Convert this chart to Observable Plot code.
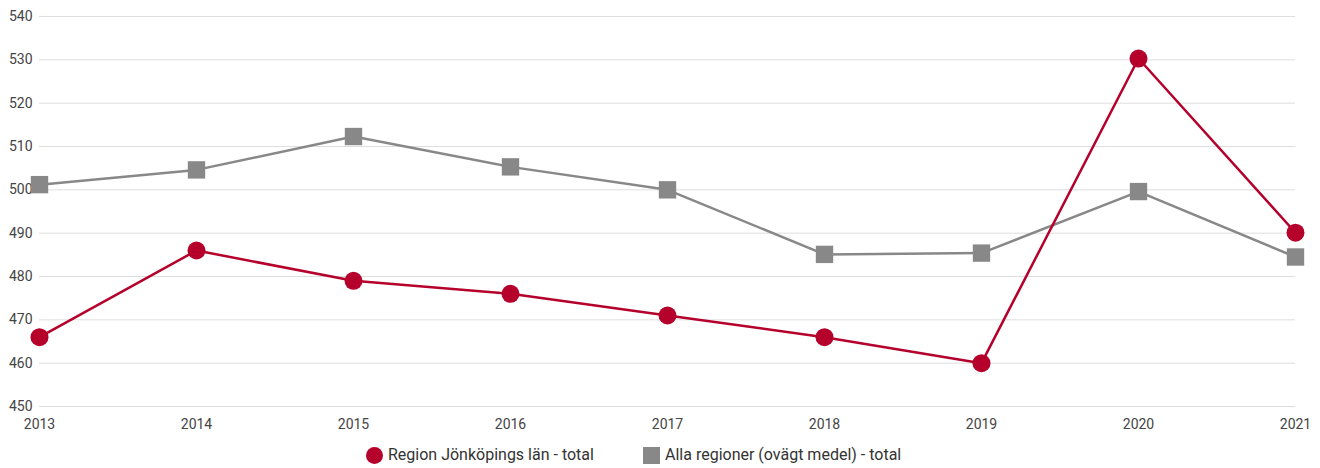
<!DOCTYPE html>
<html>
<head>
<meta charset="utf-8">
<script src="https://cdn.jsdelivr.net/npm/d3@7"></script>
<script src="https://cdn.jsdelivr.net/npm/@observablehq/plot@0.6"></script>
<style>
  html, body { margin: 0; padding: 0; background: #fff; }
  body { width: 1320px; height: 468px; overflow: hidden; font-family: Roboto, sans-serif; }
  #chart svg { display: block; }
  #legend { position: relative; height: 28px; font-family: Roboto, sans-serif; font-size: 16px; color: #333; }
  .item { position: absolute; top: 5px; display: flex; align-items: center; white-space: nowrap; line-height: 20px; }
  .sw { display: inline-block; width: 17px; height: 17px; margin-right: 5px; }
</style>
</head>
<body>
<div id="chart"></div>
<div id="legend"></div>
<script>
const years = [2013, 2014, 2015, 2016, 2017, 2018, 2019, 2020, 2021];
const jonkoping = [466, 486, 479, 476, 471, 466, 460, 530.3, 490.1];
const allaRegioner = [501.2, 504.6, 512.3, 505.3, 500, 485.1, 485.4, 499.6, 484.5];
const seriesNames = ["Region Jönköpings län - total", "Alla regioner (ovägt medel) - total"];
const seriesColors = ["#b5002b", "#888888"];
const yTicks = [450, 460, 470, 480, 490, 500, 510, 520, 530, 540];

const redRows = years.map((y, i) => ({year: y, value: jonkoping[i]}));
const grayRows = years.map((y, i) => ({year: y, value: allaRegioner[i]}));

const chart = Plot.plot({
  width: 1320,
  height: 440,
  marginTop: 16,
  marginBottom: 34,
  marginLeft: 39,
  marginRight: 25,
  style: {fontFamily: "Roboto, sans-serif", fontSize: "14px", color: "#444", background: "#fff"},
  x: {domain: [2013, 2021], ticks: years, tickFormat: "d", tickSize: 0, tickPadding: 13, label: null},
  y: {domain: [450, 540], ticks: yTicks, tickSize: 0, tickPadding: 7, label: null},
  marks: [
    Plot.ruleY(yTicks, {stroke: "#dedede", strokeWidth: 1}),
    Plot.line(grayRows, {x: "year", y: "value", stroke: seriesColors[1], strokeWidth: 2.5}),
    Plot.dot(grayRows, {x: "year", y: "value", symbol: "square", r: 9.8, fill: seriesColors[1], stroke: "none"}),
    Plot.line(redRows, {x: "year", y: "value", stroke: seriesColors[0], strokeWidth: 2.5}),
    Plot.dot(redRows, {x: "year", y: "value", symbol: "circle", r: 9, fill: seriesColors[0], stroke: "none"})
  ]
});
document.getElementById("chart").appendChild(chart);

const legend = document.getElementById("legend");
const lefts = [366, 643];
seriesNames.forEach((name, i) => {
  const item = document.createElement("div");
  item.className = "item";
  item.style.left = lefts[i] + "px";
  const sw = document.createElement("span");
  sw.className = "sw";
  sw.style.background = seriesColors[i];
  if (i === 0) sw.style.borderRadius = "50%";
  item.appendChild(sw);
  item.appendChild(document.createTextNode(name));
  legend.appendChild(item);
});
</script>
</body>
</html>
